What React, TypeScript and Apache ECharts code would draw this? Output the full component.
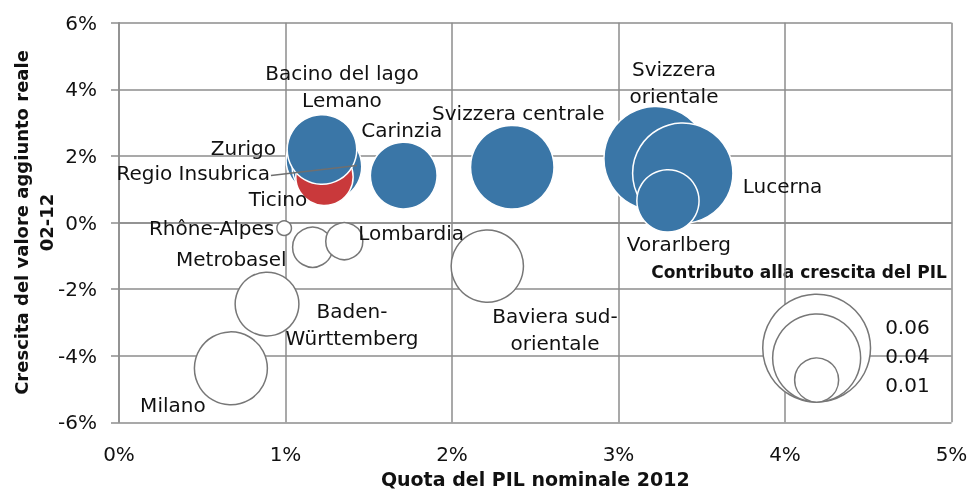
import React, { useEffect, useRef } from 'react';
import * as echarts from 'echarts';

// Regions (display names, line breaks as in the reference)
const regions = [
  'Svizzera\norientale',
  'Lucerna',
  'Vorarlberg',
  'Zurigo',
  'Regio Insubrica',
  'Ticino',
  'Bacino del lago\nLemano',
  'Carinzia',
  'Svizzera centrale',
  'Rhône-Alpes',
  'Metrobasel',
  'Lombardia',
  'Baden-\nWürttemberg',
  'Baviera sud-\norientale',
  'Milano',
];
// Quota del PIL nominale 2012 (%)
const quotaPil = [3.225, 3.386, 3.297, 1.195, 1.249, 1.234, 1.219, 1.71, 2.362, 0.992, 1.163, 1.353, 0.889, 2.212, 0.672];
// Crescita del valore aggiunto reale 02-12 (%)
const crescita = [1.92, 1.48, 0.65, 1.86, 1.68, 1.37, 2.19, 1.41, 1.66, -0.17, -0.74, -0.56, -2.45, -1.31, -4.38];
// Contributo alla crescita del PIL (bubble size)
const contributo = [0.056, 0.052, 0.020, 0.021, 0.025, 0.017, 0.025, 0.023, 0.036, 0.0011, 0.0083, 0.0071, 0.021, 0.027, 0.0275];
const highlighted = 'Ticino';

// Size legend
const legendSizes = [0.06, 0.04, 0.01];
const legendPoint = [4.19, -5.39];

// Axis ticks
const xTicks = { min: 0, max: 5, interval: 1 };
const yTicks = { min: -6, max: 6, interval: 2 };

// Label placement (pixel offsets from bubble centre) — styling only
const labelPlacement: Record<string, { offset: number[]; align: string }> = {
  'Svizzera\norientale': { offset: [18, -76], align: 'center' },
  'Lucerna': { offset: [60, 13], align: 'left' },
  'Vorarlberg': { offset: [11, 43.5], align: 'center' },
  'Zurigo': { offset: [-42, -13], align: 'right' },
  'Regio Insubrica': { offset: [-57, 6], align: 'right' },
  'Ticino': { offset: [-46.5, 22.5], align: 'center' },
  'Bacino del lago\nLemano': { offset: [20, -63], align: 'center' },
  'Carinzia': { offset: [-2, -46], align: 'center' },
  'Svizzera centrale': { offset: [6, -54], align: 'center' },
  'Rhône-Alpes': { offset: [-10, 0], align: 'right' },
  'Metrobasel': { offset: [-26, 12], align: 'right' },
  'Lombardia': { offset: [14, -8], align: 'left' },
  'Baden-\nWürttemberg': { offset: [85, 20], align: 'center' },
  'Baviera sud-\norientale': { offset: [67.7, 63], align: 'center' },
  'Milano': { offset: [-58, 37], align: 'center' },
};
const leaderLabel = 'Regio Insubrica';
// leader line: from label end to bubble's right side (offsets from bubble centre)
const leaderFrom = [-56, 9];
const leaderTo = [30, -1];
const legendLabelOffsets = [[68.5, -21], [68.5, -2], [68.5, 5]];

const FONT = 'DejaVu Sans';
const TEXT = '#111111';
const GRID = '#8c8c8c';
const BLUE = '#3a76a7';
const RED = '#c9393b';
const RING = '#777777';
const K = 440; // diameter per sqrt(size)

export default function App() {
  const ref = useRef<HTMLDivElement>(null);
  useEffect(() => {
    if (!ref.current) return;
    const chart = echarts.init(ref.current, undefined, { renderer: 'svg' });
    const lineStyle = { color: GRID, width: 1.5 };
    const leaderIdx = regions.indexOf(leaderLabel);

    const mainData = regions.map((name, i) => {
      const neg = crescita[i] < 0;
      const isHi = name === highlighted;
      return {
        name,
        value: [quotaPil[i], crescita[i], contributo[i]],
        symbolSize: K * Math.sqrt(contributo[i]),
        itemStyle: neg
          ? { color: '#ffffff', borderColor: RING, borderWidth: 1.5, opacity: 1 }
          : { color: isHi ? RED : BLUE, borderColor: '#ffffff', borderWidth: 1.5, opacity: 1 },
      };
    });

    const titleGraphic = {
      id: 'legendTitle',
      type: 'text',
      x: 799,
      y: 272,
      style: {
        text: 'Contributo alla crescita del PIL',
        fontFamily: FONT,
        fontSize: 17,
        fontWeight: 'bold',
        fill: TEXT,
        align: 'center',
        verticalAlign: 'middle',
      },
    };

    const option: any = {
      animation: false,
      textStyle: { fontFamily: FONT },
      grid: { left: 119, right: 18.5, top: 22.7, bottom: 69.7, outerBoundsMode: 'none', containLabel: false },
      xAxis: {
        type: 'value',
        min: xTicks.min,
        max: xTicks.max,
        interval: xTicks.interval,
        name: 'Quota del PIL nominale 2012',
        nameLocation: 'middle',
        nameGap: 47,
        nameMoveOverlap: false,
        nameTextStyle: { fontFamily: FONT, fontSize: 19, fontWeight: 'bold', color: TEXT },
        axisLine: { show: true, lineStyle },
        axisTick: { show: false },
        axisLabel: { formatter: '{value}%', fontFamily: FONT, fontSize: 20, color: TEXT, margin: 22 },
        splitLine: { show: true, lineStyle },
      },
      yAxis: {
        type: 'value',
        min: yTicks.min,
        max: yTicks.max,
        interval: yTicks.interval,
        name: 'Crescita del valore aggiunto reale\n02-12',
        nameLocation: 'middle',
        nameGap: 60,
        nameMoveOverlap: false,
        nameTextStyle: { fontFamily: FONT, fontSize: 18, fontWeight: 'bold', color: TEXT, lineHeight: 25, align: 'center' },
        axisLine: { show: true, lineStyle },
        axisTick: { show: true, length: 8, lineStyle },
        axisLabel: { formatter: '{value}%', fontFamily: FONT, fontSize: 20, color: TEXT, margin: 22 },
        splitLine: { show: true, lineStyle },
      },
      graphic: [titleGraphic],
      series: [
        {
          type: 'scatter',
          data: mainData,
          itemStyle: { opacity: 1 },
          label: {
            show: true,
            position: 'inside',
            formatter: '{b}',
            fontFamily: FONT,
            fontSize: 20,
            lineHeight: 27,
            color: TEXT,
            textBorderWidth: 0,
          },
          labelLayout: (params: any) => {
            const name = regions[params.dataIndex];
            const pl = labelPlacement[name];
            const r = params.rect;
            const cx = r.x + r.width / 2;
            const cy = r.y + r.height / 2;
            return { x: cx + pl.offset[0], y: cy + pl.offset[1], align: pl.align, verticalAlign: 'middle' };
          },
          emphasis: { disabled: true },
        },
        {
          type: 'scatter',
          data: legendSizes.map((v, i) => ({
            value: legendPoint,
            symbolSize: K * Math.sqrt(v),
            symbolOffset: [0, -(K / 2) * Math.sqrt(v)],
            label: { offset: legendLabelOffsets[i] },
          })),
          itemStyle: { color: '#ffffff', borderColor: RING, borderWidth: 1.5, opacity: 1 },
          label: {
            show: true,
            position: 'inside',
            align: 'left',
            formatter: (p: any) => legendSizes[p.dataIndex].toFixed(2),
            fontFamily: FONT,
            fontSize: 20,
            color: TEXT,
            textBorderWidth: 0,
          },
          emphasis: { disabled: true },
        },
      ],
    };
    chart.setOption(option);

    // Leader line for Regio Insubrica, positioned from the axis scales
    const c = chart.convertToPixel({ gridIndex: 0 }, [quotaPil[leaderIdx], crescita[leaderIdx]]) as number[];
    chart.setOption({
      graphic: [
        titleGraphic,
        {
          id: 'leader',
          type: 'line',
          z: 100,
          shape: {
            x1: c[0] + leaderFrom[0],
            y1: c[1] + leaderFrom[1],
            x2: c[0] + leaderTo[0],
            y2: c[1] + leaderTo[1],
          },
          style: { stroke: '#6f6f6f', lineWidth: 1.5 },
        },
      ],
    });
    return () => chart.dispose();
  }, []);
  return <div ref={ref} style={{ position: 'fixed', left: 0, top: 0, width: 970, height: 492 }} />;
}
